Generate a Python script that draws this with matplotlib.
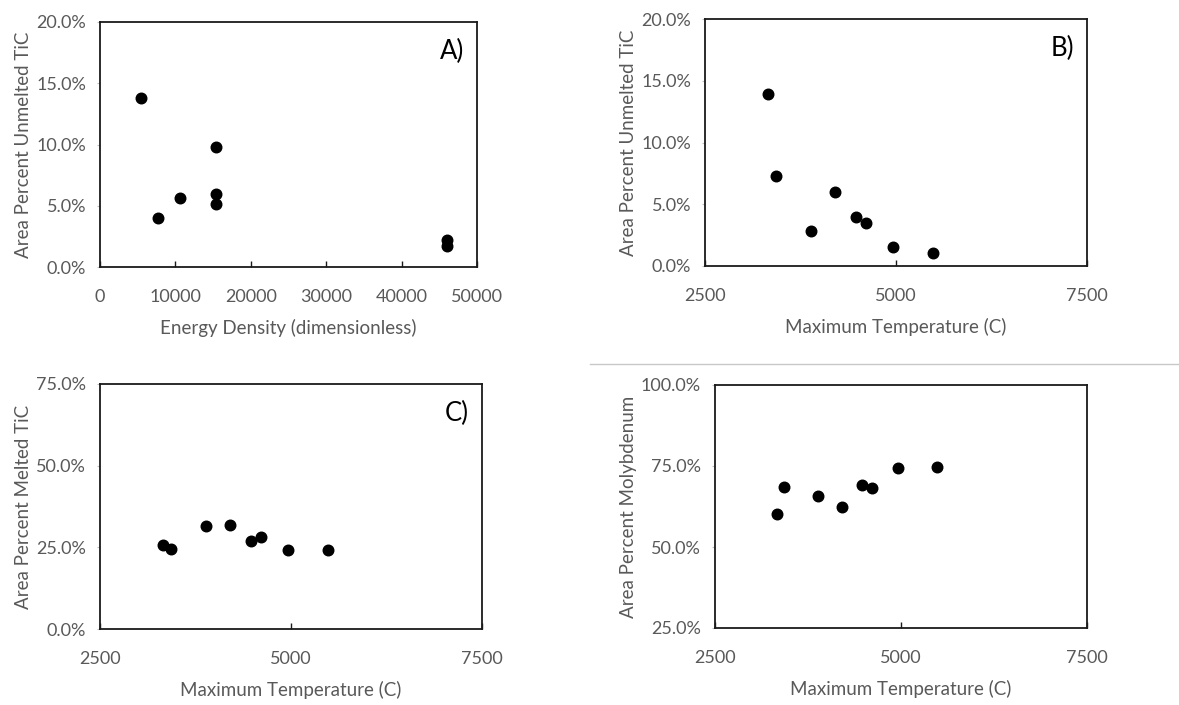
import matplotlib
matplotlib.use("Agg")
import matplotlib.pyplot as plt
from matplotlib.ticker import PercentFormatter
from matplotlib.lines import Line2D

plt.rcParams['font.family'] = ['Lato', 'DejaVu Sans']

# Panel A: unmelted TiC vs energy density
energy_density = [5440, 7650, 10620, 15350, 15350, 15350, 46020, 46020]
unmelted_a = [13.8, 3.96, 5.62, 9.82, 5.95, 5.18, 2.24, 1.72]

# Panels B-D share the maximum temperature of each run
max_temp = [3330, 3425, 3890, 4207, 4474, 4605, 4958, 5487]
unmelted_b = [13.93, 7.29, 2.86, 5.99, 3.97, 3.51, 1.57, 1.08]
melted_c = [25.8, 24.35, 31.4, 31.8, 27.0, 28.3, 24.05, 24.05]
molybdenum_d = [60.2, 68.4, 65.8, 62.3, 69.0, 68.2, 74.35, 74.8]

W, H = 1179, 705
fig = plt.figure(figsize=(W / 100, H / 100), dpi=100)

GREY = '#595959'


def add_axes(left, top, right, bottom):
    return fig.add_axes([left / W, 1 - bottom / H, (right - left) / W, (bottom - top) / H])


def style(ax, xlim, xticks, ylim, yticks, xlabel, ylabel, tag):
    ax.set_xlim(*xlim)
    ax.set_ylim(*ylim)
    ax.set_xticks(xticks)
    ax.set_yticks(yticks)
    ax.yaxis.set_major_formatter(PercentFormatter(decimals=1))
    for s in ax.spines.values():
        s.set_linewidth(1.3)
        s.set_color('#1a1a1a')
    ax.tick_params(axis='x', direction='in', length=4, width=1, color='#1a1a1a',
                   labelsize=13, labelcolor=GREY, pad=16)
    ax.tick_params(axis='y', direction='out', length=2, width=0.8, color='#bfbfbf',
                   labelsize=13, labelcolor=GREY, pad=8)
    ax.set_xlabel(xlabel, fontsize=13.5, color=GREY, labelpad=10)
    ax.set_ylabel(ylabel, fontsize=13.5, color=GREY, labelpad=3)
    ax.text(0.965, 0.88, tag, transform=ax.transAxes, ha='right', va='center',
            fontsize=18.5, color='black')


def scatter(ax, x, y):
    ax.plot(x, y, linestyle='none', marker='o', markersize=7.6, color='black',
            clip_on=False)


axA = add_axes(100, 22, 477, 267)
scatter(axA, energy_density, unmelted_a)
style(axA, (0, 50000), [0, 10000, 20000, 30000, 40000, 50000], (0, 20),
      [0, 5, 10, 15, 20], 'Energy Density (dimensionless)', 'Area Percent Unmelted TiC', 'A)')

axB = add_axes(705, 19, 1087, 266)
scatter(axB, max_temp, unmelted_b)
style(axB, (2500, 7500), [2500, 5000, 7500], (0, 20), [0, 5, 10, 15, 20],
      'Maximum Temperature (C)', 'Area Percent Unmelted TiC', 'B)')

axC = add_axes(100, 384, 482, 629)
scatter(axC, max_temp, melted_c)
style(axC, (2500, 7500), [2500, 5000, 7500], (0, 75), [0, 25, 50, 75],
      'Maximum Temperature (C)', 'Area Percent Melted TiC', 'C)')

axD = add_axes(715, 385, 1087, 628)
scatter(axD, max_temp, molybdenum_d)
style(axD, (2500, 7500), [2500, 5000, 7500], (25, 100), [25, 50, 75, 100],
      'Maximum Temperature (C)', 'Area Percent Molybdenum', '')

# thin divider above the lower-right panel
fig.add_artist(Line2D([590 / W, 1.0], [1 - 364 / H, 1 - 364 / H], color='#c8c8c8',
                      linewidth=1.0))

fig.savefig('out.png', dpi=100, facecolor='white')
